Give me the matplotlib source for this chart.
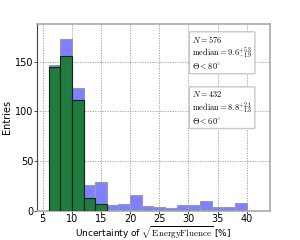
import numpy as np
import matplotlib
matplotlib.use('Agg')
import matplotlib.pyplot as plt

bin_edges = np.arange(6, 42, 2)
all_counts = [147, 173, 124, 26, 29, 6, 7, 16, 5, 4, 3, 6, 6, 10, 4, 4, 8]
low_counts = [145, 156, 111, 13, 7, 0, 0, 0, 0, 0, 0, 0, 0, 0, 0, 0, 0]

plt.rcParams['mathtext.fontset'] = 'cm'

fig = plt.figure(figsize=(3.0, 2.4), dpi=100)
ax = fig.add_axes([0.123, 0.122, 0.777, 0.778])

centers = bin_edges[:-1]
ax.bar(centers, all_counts, width=2, align='edge', color='#8080ff',
       edgecolor='#9a9aaa', linewidth=0.8, zorder=2)
ax.bar(centers, low_counts, width=2, align='edge', color='#217a3e',
       edgecolor='#0e2a14', linewidth=0.8, zorder=3)

ax.set_xlim(4, 44)
ax.set_ylim(0, 188)
ax.set_xticks([5, 10, 15, 20, 25, 30, 35, 40])
ax.set_yticks([0, 50, 100, 150])
ax.grid(True, linestyle=(0, (1.5, 1.5)), color='#999999', linewidth=0.6, zorder=0)
ax.set_axisbelow(True)
ax.tick_params(labelsize=7, length=2, width=0.5, pad=0.5)
for s in ['top', 'right', 'bottom']:
    ax.spines[s].set_color('#aaaaaa')
    ax.spines[s].set_linewidth(1.2)
ax.spines['left'].set_color('#444444')
ax.spines['left'].set_linewidth(0.8)

ax.set_ylabel('Entries', fontsize=7, labelpad=2)
ax.set_xlabel(r'Uncertainty of $\sqrt{\mathrm{EnergyFluence}}$ [%]', fontsize=6.5, labelpad=0)

box = dict(boxstyle='round,pad=0.3,rounding_size=0.1', facecolor='white',
           edgecolor='#c8c8c8', linewidth=1.0)
ax.text(0.665, 0.945, '$N = 576$\n' + r'$\mathrm{median} = 9.6^{+5.3}_{-1.9}$' + '\n' + r'$\Theta < 80^{\circ}$',
        transform=ax.transAxes, fontsize=6, va='top', ha='left', bbox=box, linespacing=1.05)
ax.text(0.665, 0.65, '$N = 432$\n' + r'$\mathrm{median} = 8.8^{+2.1}_{-1.3}$' + '\n' + r'$\Theta < 60^{\circ}$',
        transform=ax.transAxes, fontsize=6, va='top', ha='left', bbox=box, linespacing=1.05)

fig.savefig('out.png', dpi=100)
